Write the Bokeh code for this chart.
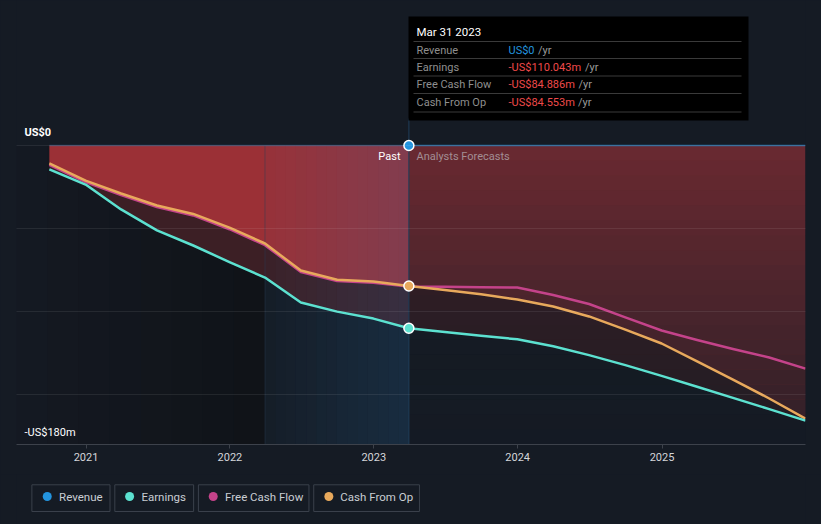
import numpy as np
import pandas as pd
from bokeh.plotting import figure
from bokeh.models import Range1d, FixedTicker, DatetimeTickFormatter
from bokeh.layouts import column
from bokeh.embed import file_html
from bokeh.resources import INLINE
from bokeh.core.properties import value

# ---------------- data (US$ m) ----------------
past_dates = ["2020-09-30", "2020-12-31", "2021-03-31", "2021-06-30", "2021-09-30",
              "2021-12-31", "2022-03-31", "2022-06-30", "2022-09-30", "2022-12-31",
              "2023-03-31"]
earnings_past = [-14.4, -23.5, -38.5, -51.1, -60.2, -70.2, -79.5, -94.5, -100.0, -104.2, -110.043]
fcf_past = [-11.6, -22.0, -29.8, -37.0, -42.1, -50.4, -60.0, -76.2, -81.6, -82.6, -84.886]
cfo_past = [-10.8, -21.1, -28.9, -36.1, -41.2, -49.4, -59.0, -75.3, -80.8, -81.9, -84.553]
revenue_past = [0.0] * len(past_dates)

fc_dates = ["2023-03-31", "2023-06-30", "2023-09-30", "2023-12-31", "2024-03-31",
            "2024-06-30", "2024-09-30", "2024-12-31", "2025-03-31", "2025-06-30",
            "2025-09-30", "2025-12-31"]
earnings_fc = [-110.043, -112.3, -114.5, -116.7, -120.9, -126.2, -132.2, -138.7, -145.2, -151.9, -158.7, -165.6]
fcf_fc = [-84.886, -85.1, -85.3, -85.5, -90.0, -95.4, -103.5, -111.4, -117.1, -122.5, -127.6, -134.3]
cfo_fc = [-84.553, -87.0, -89.6, -92.7, -96.9, -102.9, -110.8, -119.2, -130.0, -140.9, -152.3, -164.4]
revenue_fc = [0.0] * len(fc_dates)

current_date = "2023-03-31"
past_start = "2022-03-31"
tick_years = ["2021", "2022", "2023", "2024", "2025"]

tip_title = "Mar 31 2023"
tip_labels = ["Revenue", "Earnings", "Free Cash Flow", "Cash From Op"]
tip_values = ["US$0", "-US$110.043m", "-US$84.886m", "-US$84.553m"]

legend_names = ["Revenue", "Earnings", "Free Cash Flow", "Cash From Op"]

# ---------------- style ----------------
BG = "#151b24"
FONT = "Roboto"
C_REV = "#2394df"
C_EARN = "#5ce1d0"
C_FCF = "#c4438a"
C_CFO = "#e8a95c"
C_NEG = "#ef4a4a"

YEAR_MS = 365.25 * 86400000.0
T0 = pd.Timestamp("2021-01-01").value / 1e6
PX_Y0 = 145.0
PX_PER_M = 299.0 / 180.0


def px_x(px):
    return T0 + (px - 85.5) / 144.0 * YEAR_MS


def px_y(py):
    return -(py - PX_Y0) / PX_PER_M


def ms(d):
    return pd.Timestamp(d).value / 1e6


xp = pd.to_datetime(past_dates)
xf = pd.to_datetime(fc_dates)

p = figure(width=821, height=474, x_axis_type="datetime",
           x_range=Range1d(px_x(16), px_x(805)),
           y_range=Range1d(-180, px_y(0)),
           output_backend="svg", toolbar_location=None,
           min_border_left=16, min_border_right=16, min_border_top=0, min_border_bottom=30,
           background_fill_color=BG, border_fill_color=BG, outline_line_color=None)

p.yaxis.visible = False
p.xgrid.visible = False
p.ygrid.ticker = FixedTicker(ticks=[0, -50, -100, -150])
p.ygrid.grid_line_color = "#ffffff"
p.ygrid.grid_line_alpha = 0.08
p.ygrid.level = "guide"

p.xaxis.ticker = FixedTicker(ticks=[ms(y + "-01-01") for y in tick_years])
p.xaxis.formatter = DatetimeTickFormatter(years="%Y", months="%Y", days="%Y", hours="%Y",
                                          minutes="%Y", seconds="%Y", milliseconds="%Y",
                                          microseconds="%Y", hourmin="%Y", minsec="%Y")
p.xaxis.axis_line_color = "#3d424b"
p.xaxis.major_tick_line_color = "#3d424b"
p.xaxis.major_tick_out = 4
p.xaxis.major_tick_in = 0
p.xaxis.minor_tick_out = 0
p.xaxis.minor_tick_in = 0
p.xaxis.major_label_text_color = "#d4d6da"
p.xaxis.major_label_text_font = FONT
p.xaxis.major_label_text_font_size = "11px"
p.xaxis.major_label_standoff = 4

# darker past background (horizontal gradient)
n = 8
edges = np.linspace(px_x(16), ms(past_start), n + 1)
c0 = np.array([21, 26, 35])
c1 = np.array([16, 19, 24])
cols = ["#%02x%02x%02x" % tuple(int(v) for v in (c0 + (c1 - c0) * (i + 0.5) / n)) for i in range(n)]
p.quad(left=edges[:-1], right=edges[1:], top=0, bottom=-180, fill_color=cols, line_color=None)

# area fills
low_p = np.minimum(fcf_past, cfo_past)
low_f = np.minimum(fcf_fc, cfo_fc)
p.varea(x=xp, y1=0, y2=low_p, fill_color="#9b3036")
p.varea(x=xp, y1=low_p, y2=earnings_past, fill_color="#3c1f25")
p.varea(x=xf, y1=0, y2=low_f, fill_color="#6a2a31")
p.varea(x=xf, y1=low_f, y2=earnings_fc, fill_color="#3c1f25")

# forecast vertical darkening
nb = 20
yb = np.linspace(0, -180, nb + 1)
p.quad(left=ms(current_date), right=px_x(805), top=yb[:-1], bottom=yb[1:],
       fill_color=BG, fill_alpha=[0.7 * (i + 0.5) / nb for i in range(nb)], line_color=None)

# highlight last-year region
nh = 14
he = np.linspace(ms(past_start), ms(current_date), nh + 1)
p.quad(left=he[:-1], right=he[1:], top=0, bottom=-180, fill_color="#286eaa",
       fill_alpha=[0.03 + 0.19 * (i + 0.5) / nh for i in range(nh)], line_color=None)

# vertical markers
p.segment(x0=ms(past_start), x1=ms(past_start), y0=0, y1=-180, line_color="#2a3f55",
          line_alpha=0.45, line_width=1)
p.segment(x0=ms(current_date), x1=ms(current_date), y0=px_y(118), y1=-180, line_color="#1f3d5a", line_width=1)

# lines
xall = list(xp) + list(xf[1:])
p.line(xp, revenue_past, line_color=C_REV, line_alpha=0.3, line_width=1.5)
p.line(xf, revenue_fc, line_color=C_REV, line_alpha=0.6, line_width=1.5)
p.line(xall, fcf_past + fcf_fc[1:], line_color=C_FCF, line_width=2.5, line_join="round")
p.line(xall, cfo_past + cfo_fc[1:], line_color=C_CFO, line_width=2.5, line_join="round")
p.line(xall, earnings_past + earnings_fc[1:], line_color=C_EARN, line_width=2.5, line_join="round")

cd = pd.to_datetime([current_date] * 3)
p.scatter(cd, [revenue_fc[0], cfo_fc[0], earnings_fc[0]], size=10,
          fill_color=[C_REV, C_CFO, C_EARN], line_color="#ffffff", line_width=1.5)

# texts
p.text(x=[px_x(24)], y=[px_y(132)], text=["US$0"], text_color="#ffffff",
       text_font=value(FONT), text_font_size="11px", text_font_style="bold", text_baseline="middle")
p.text(x=[px_x(24)], y=[px_y(432)], text=["-US$180m"], text_color="#ffffff",
       text_font=value(FONT), text_font_size="11px", text_baseline="middle")
p.text(x=[px_x(400)], y=[px_y(156)], text=["Past"], text_color="#ffffff",
       text_font=value(FONT), text_font_size="11px", text_baseline="middle", text_align="right")
p.text(x=[px_x(416)], y=[px_y(156)], text=["Analysts Forecasts"], text_color="#a28e94",
       text_font=value(FONT), text_font_size="11px", text_baseline="middle")

# tooltip
p.quad(left=px_x(408), right=px_x(748), top=px_y(16), bottom=px_y(120), fill_color="#000000", line_color=None)
for yy in [41, 58, 75.5, 93, 111.5]:
    p.segment(x0=px_x(413), x1=px_x(741), y0=px_y(yy), y1=px_y(yy), line_color="#3a3a3a", line_width=1)
p.text(x=[px_x(416)], y=[px_y(31)], text=[tip_title], text_color="#ffffff",
       text_font=value(FONT), text_font_size="11.5px", text_baseline="middle")
row_y = [px_y(v) for v in [49.5, 66.5, 84, 101.5]]
p.text(x=[px_x(416)] * 4, y=row_y, text=tip_labels, text_color="#8f8f8f",
       text_font=value(FONT), text_font_size="11px", text_baseline="middle")
p.text(x=[px_x(508)] * 4, y=row_y, text=tip_values, text_color=[C_REV, C_NEG, C_NEG, C_NEG],
       text_font=value(FONT), text_font_size="11px", text_baseline="middle")
p.text(x=[px_x(v) for v in [537.5, 584.5, 578, 577.5]], y=row_y, text=["/yr"] * 4, text_color="#9a9a9a",
       text_font=value(FONT), text_font_size="11px", text_baseline="middle")

# ---------------- legend figure ----------------
lg = figure(width=821, height=50, x_range=Range1d(0, 821), y_range=Range1d(50, 0),
            output_backend="svg", toolbar_location=None, min_border=0,
            x_axis_location=None, y_axis_location=None,
            background_fill_color=BG, border_fill_color=BG, outline_line_color=None)
lg.grid.visible = False
lg.quad(left=[16, 102.3, 189.3, 309.3], right=[97.3, 184.3, 304.3, 419.3], top=10.3, bottom=37,
        fill_color=None, line_color="#3a404b", line_width=1)
lg.scatter(x=[32, 117.7, 204.7, 325], y=[22, 22, 22, 22], size=9,
           fill_color=[C_REV, C_EARN, C_FCF, C_CFO], line_color=None)
lg.text(x=[44.3, 130, 217, 337], y=[22.5] * 4, text=legend_names, text_color="#c9cdd3",
        text_font=value(FONT), text_font_size="11.5px", text_baseline="middle")

layout = column(p, lg, spacing=0)
html = file_html(layout, INLINE)
html = html.replace("</head>", "<style>body{background:#151b24;}</style></head>", 1)
open("out.html", "w").write(html)
